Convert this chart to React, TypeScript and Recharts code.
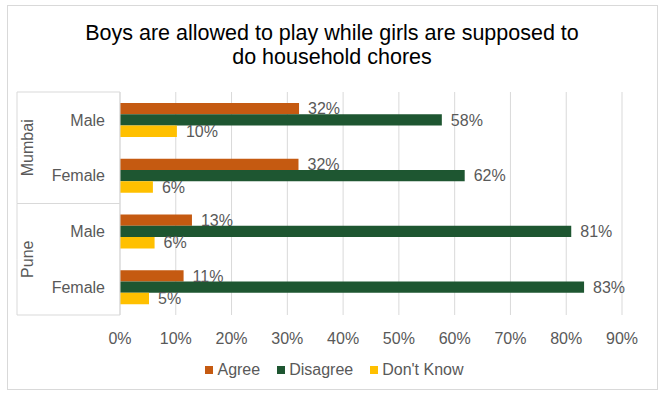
import { BarChart, Bar, XAxis, YAxis, CartesianGrid, Legend, LabelList } from "recharts";

const groups = ["Mumbai", "Mumbai", "Pune", "Pune"];
const categories = ["Male", "Female", "Male", "Female"];
const agree = [32.1, 32.0, 12.9, 11.4];
const disagree = [57.7, 61.8, 80.9, 83.2];
const dontKnow = [10.2, 5.9, 6.2, 5.2];
const xTicks = [0, 10, 20, 30, 40, 50, 60, 70, 80, 90];

const seriesNames = ["Agree", "Disagree", "Don't Know"];
const seriesColors = ["#C55A11", "#1E5631", "#FFC000"];

const data = categories.map((sub, i) => ({
  key: `${groups[i]}|${sub}`,
  agree: agree[i],
  disagree: disagree[i],
  dontKnow: dontKnow[i],
}));

const W = 664;
const H = 395;
const TOP = 92;
const PLOT_BOTTOM = 315;
const AXIS_W = 120;
const BOX_LEFT = 17;
const FONT = "'Liberation Sans', Arial, sans-serif";
const GRAY = "#595959";
const LINE = "#d9d9d9";

const band = (PLOT_BOTTOM - TOP) / categories.length;

function CategoryTick(props: any) {
  const { y, payload, index } = props;
  const [group, sub] = String(payload.value).split("|");
  const top = y - band / 2;
  const bottom = y + band / 2;
  const firstOfGroup = index === 0 || groups[index - 1] !== group;
  const last = index === categories.length - 1;
  let groupSize = 0;
  for (let j = index; j < groups.length && groups[j] === group; j++) groupSize++;
  const groupCenter = top + (groupSize * band) / 2;
  return (
    <g>
      <text x={AXIS_W - 15} y={y} dy="0.36em" textAnchor="end" fontSize={16} fill={GRAY}>
        {sub}
      </text>
      <line x1={BOX_LEFT} x2={BOX_LEFT} y1={top} y2={bottom} stroke={LINE} />
      {firstOfGroup && (
        <>
          <line x1={BOX_LEFT} x2={AXIS_W} y1={top} y2={top} stroke={LINE} />
          <text
            transform={`translate(33, ${groupCenter}) rotate(-90)`}
            textAnchor="middle"
            fontSize={16}
            fill={GRAY}
          >
            {group}
          </text>
        </>
      )}
      {last && <line x1={BOX_LEFT} x2={AXIS_W} y1={bottom} y2={bottom} stroke={LINE} />}
    </g>
  );
}

function LegendContent() {
  return (
    <div
      style={{
        display: "flex",
        justifyContent: "center",
        alignItems: "center",
        height: 24,
        paddingLeft: 5,
        fontSize: 16,
        color: GRAY,
        fontFamily: FONT,
      }}
    >
      {seriesNames.map((name, i) => (
        <div key={name} style={{ display: "flex", alignItems: "center", marginRight: i < 2 ? 17 : 0 }}>
          <span style={{ width: 8, height: 8, background: seriesColors[i], marginRight: 4 }} />
          <span>{name}</span>
        </div>
      ))}
    </div>
  );
}

const pct = (v: any) => `${Math.round(Number(v))}%`;

export default function App() {
  return (
    <div style={{ position: "absolute", left: 0, top: 0, width: W, height: H, background: "#fff", fontFamily: FONT }}>
      <div
        style={{
          position: "absolute",
          left: 7,
          top: 5,
          width: 651,
          height: 385,
          boxSizing: "border-box",
          border: `1px solid ${LINE}`,
        }}
      />
      <div
        style={{
          position: "absolute",
          left: 0,
          top: 21,
          width: W,
          textAlign: "center",
          fontSize: 21.5,
          lineHeight: "24px",
          color: "#000",
        }}
      >
        Boys are allowed to play while girls are supposed to
        <br />
        do household chores
      </div>
      <BarChart
        width={W}
        height={H}
        data={data}
        layout="vertical"
        margin={{ top: TOP, right: 42, left: 0, bottom: 26 }}
        barGap={0}
        barSize={11.3}
        style={{ fontFamily: FONT }}
      >
        <CartesianGrid horizontal={false} stroke={LINE} />
        <XAxis
          type="number"
          domain={[0, 90]}
          ticks={xTicks}
          tickFormatter={(v) => `${v}%`}
          axisLine={false}
          tickLine={false}
          tickMargin={12}
          height={30}
          tick={{ fill: GRAY, fontSize: 16 }}
        />
        <YAxis
          type="category"
          dataKey="key"
          width={AXIS_W}
          axisLine={{ stroke: LINE }}
          tickLine={false}
          tick={<CategoryTick />}
          interval={0}
        />
        <Legend
          verticalAlign="bottom"
          content={<LegendContent />}
          wrapperStyle={{ position: "absolute", top: 358, left: 0, width: W, height: 24 }}
        />
        <Bar dataKey="agree" name={seriesNames[0]} fill={seriesColors[0]} isAnimationActive={false}>
          <LabelList dataKey="agree" position="right" offset={9} formatter={pct} fill={GRAY} fontSize={16} />
        </Bar>
        <Bar dataKey="disagree" name={seriesNames[1]} fill={seriesColors[1]} isAnimationActive={false}>
          <LabelList dataKey="disagree" position="right" offset={9} formatter={pct} fill={GRAY} fontSize={16} />
        </Bar>
        <Bar dataKey="dontKnow" name={seriesNames[2]} fill={seriesColors[2]} isAnimationActive={false}>
          <LabelList dataKey="dontKnow" position="right" offset={9} formatter={pct} fill={GRAY} fontSize={16} />
        </Bar>
      </BarChart>
    </div>
  );
}
